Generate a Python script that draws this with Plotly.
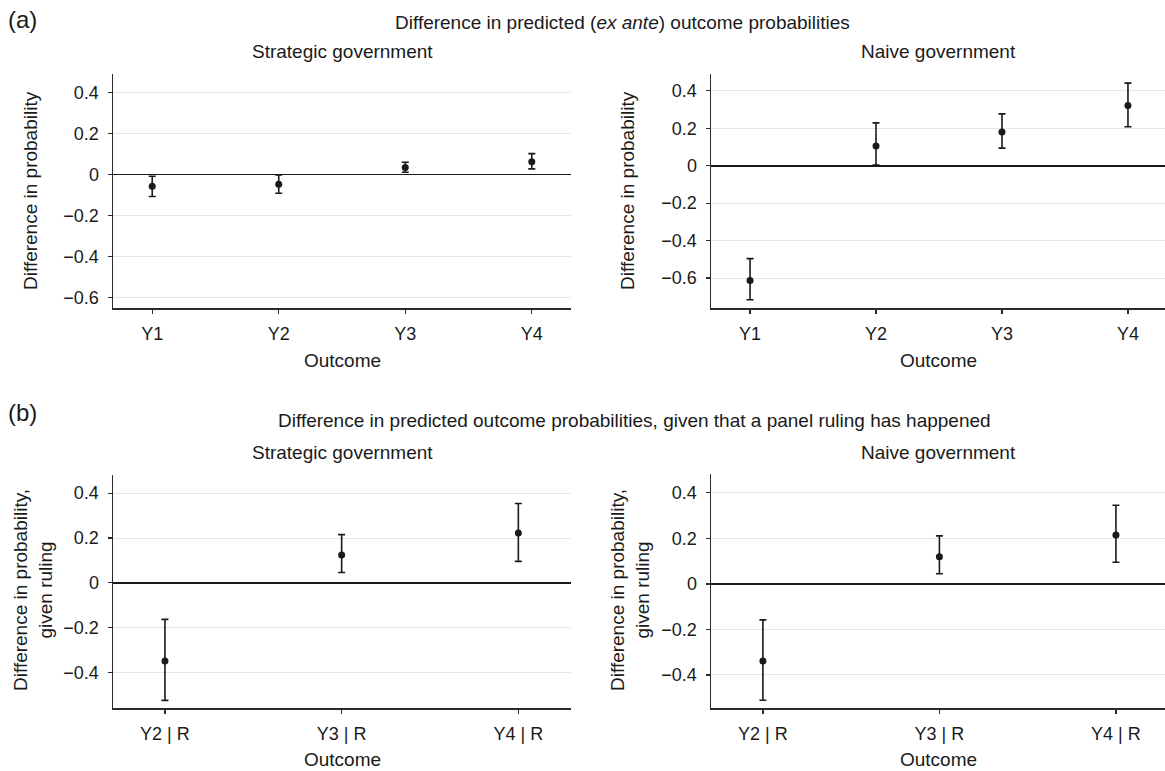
import plotly.graph_objects as go

# ---------------- data ----------------
cats_a = ["Y1", "Y2", "Y3", "Y4"]
strat_a = [-0.057, -0.047, 0.035, 0.062]
strat_a_hi = [-0.008, -0.002, 0.060, 0.102]
strat_a_lo = [-0.107, -0.091, 0.011, 0.028]
naive_a = [-0.613, 0.105, 0.180, 0.322]
naive_a_hi = [-0.496, 0.229, 0.277, 0.441]
naive_a_lo = [-0.716, 0.004, 0.094, 0.208]

cats_b = ["Y2 | R", "Y3 | R", "Y4 | R"]
strat_b = [-0.348, 0.124, 0.222]
strat_b_hi = [-0.163, 0.215, 0.354]
strat_b_lo = [-0.524, 0.046, 0.096]
naive_b = [-0.338, 0.120, 0.215]
naive_b_hi = [-0.158, 0.211, 0.346]
naive_b_lo = [-0.511, 0.045, 0.095]

yticks_a = [0.4, 0.2, 0, -0.2, -0.4, -0.6]
yticks_b = [0.4, 0.2, 0, -0.2, -0.4]

W, H = 1165, 771
FONT = "Liberation Sans, Arial, Helvetica, sans-serif"
INK = "#1a1a1a"
AX = "#2b2b2b"
TICK_SIZE = 18
TEXT_SIZE = 19


def px(x):
    return x / W


def py(y):
    return 1 - y / H


def fmt(v):
    if v == 0:
        return "0"
    s = f"{abs(v):.1f}"
    return ("\u2212" + s) if v < 0 else s


fig = go.Figure()

panels = [
    (cats_a, strat_a, strat_a_hi, strat_a_lo, "", (113, 571), (74, 308), (0.69, 4.31), (-0.65, 0.49), yticks_a),
    (cats_a, naive_a, naive_a_hi, naive_a_lo, "2", (711, 1165), (74, 308), (0.69, 4.294), (-0.76, 0.49), yticks_a),
    (cats_b, strat_b, strat_b_hi, strat_b_lo, "3", (113, 571), (475, 708), (0.706, 3.298), (-0.558, 0.481), yticks_b),
    (cats_b, naive_b, naive_b_hi, naive_b_lo, "4", (711, 1165), (474, 708), (0.706, 3.278), (-0.545, 0.483), yticks_b),
]

for cats, vals, hi, lo, k, xd, yd, xr, yr, yt in panels:
    xs = list(range(1, len(cats) + 1))
    fig.add_trace(go.Scatter(
        x=xs, y=vals, mode="markers",
        marker=dict(color=INK, size=7),
        error_y=dict(type="data", symmetric=False,
                     array=[h - v for h, v in zip(hi, vals)],
                     arrayminus=[v - l for l, v in zip(lo, vals)],
                     color=INK, thickness=1.6, width=3.5),
        xaxis="x" + k, yaxis="y" + k, showlegend=False, hoverinfo="skip",
    ))
    fig.update_layout(**{
        "xaxis" + k: dict(
            domain=[px(xd[0]), px(xd[1])], range=list(xr), anchor="y" + k,
            tickvals=xs, ticktext=cats, showgrid=False, zeroline=False,
            showline=True, linecolor=AX, linewidth=1.5,
            ticks="outside", ticklen=4, tickcolor=AX, tickwidth=1.2,
            tickfont=dict(family=FONT, size=TICK_SIZE, color=INK),
            ticklabelstandoff=5, fixedrange=True,
        ),
        "yaxis" + k: dict(
            domain=[py(yd[1]), py(yd[0])], range=list(yr), anchor="x" + k,
            tickvals=yt, ticktext=[fmt(v) for v in yt],
            showgrid=True, gridcolor="#e6e6e6", gridwidth=1,
            zeroline=True, zerolinecolor=INK, zerolinewidth=1.8,
            showline=True, linecolor=AX, linewidth=1.5,
            ticks="outside", ticklen=4, tickcolor=AX, tickwidth=1.2,
            tickfont=dict(family=FONT, size=TICK_SIZE, color=INK),
            ticklabelstandoff=5, fixedrange=True,
        ),
    })

ann = []


def add(text, x, y, size=TEXT_SIZE, xanchor="center", yanchor="middle", angle=0):
    ann.append(dict(text=text, x=px(x), y=py(y), xref="paper", yref="paper",
                    showarrow=False, xanchor=xanchor, yanchor=yanchor,
                    textangle=angle, font=dict(family=FONT, size=size, color=INK)))


add("(a)", 6, 19, size=24, xanchor="left")
add("(b)", 6, 412, size=24, xanchor="left")
add("Difference in predicted (<i>ex ante</i>) outcome probabilities", 622, 22)
add("Difference in predicted outcome probabilities, given that a panel ruling has happened", 634, 421)
add("Strategic government", 342, 52)
add("Naive government", 938, 52)
add("Strategic government", 342, 452)
add("Naive government", 938, 452)
add("Outcome", 342, 360)
add("Outcome", 938, 360)
add("Outcome", 342, 759)
add("Outcome", 938, 759)
add("Difference in probability", 30, 191, angle=-90)
add("Difference in probability", 627, 191, angle=-90)
add("Difference in probability,<br>given ruling", 33, 590, angle=-90)
add("Difference in probability,<br>given ruling", 630, 590, angle=-90)

fig.update_layout(
    width=W, height=H, margin=dict(l=0, r=0, t=0, b=0),
    paper_bgcolor="white", plot_bgcolor="white",
    annotations=ann, showlegend=False,
    font=dict(family=FONT, color=INK),
)

fig.write_html(
    "out.html",
    config={"displayModeBar": False, "staticPlot": True},
    post_script="document.body.style.margin='0';document.body.style.overflow='hidden';",
)
